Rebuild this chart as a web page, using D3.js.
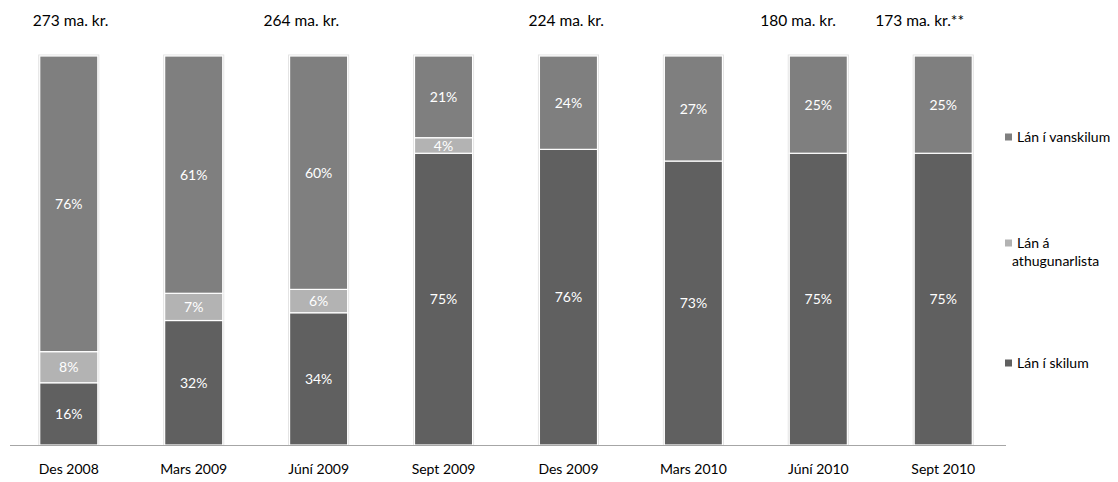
<!DOCTYPE html>
<html><head><meta charset="utf-8">
<script src="https://cdn.jsdelivr.net/npm/d3@7/dist/d3.min.js"></script>
<style>body{margin:0;background:#fff}svg{display:block}text{font-family:Lato,"Open Sans",sans-serif}</style>
</head><body><svg id="c" width="1118" height="482"></svg>
<script>
const categories = ["Des 2008","Mars 2009","Júní 2009","Sept 2009","Des 2009","Mars 2010","Júní 2010","Sept 2010"];
const skilum = [16,32,34,75,76,73,75,75];
const athugun = [8,7,6,4,0,0,0,0];
const vanskilum = [76,61,60,21,24,27,25,25];
const seriesNames = ["Lán í skilum","Lán á athugunarlista","Lán í vanskilum"];
const totalLabels = ["273 ma. kr.","","264 ma. kr.","","224 ma. kr.","","180 ma. kr.","173 ma. kr.**"];
const totalLabelDx = [-36,0,-55,0,-40,0,-58,-68];

const colors = ["#606060","#b3b3b3","#7f7f7f"];
const svg = d3.select("#c");
const x = d3.scaleBand().domain(categories).range([6,1006]).paddingInner(0.535).paddingOuter(0.27);
const y = d3.scaleLinear().domain([0,100]).range([445,56]);

const rows = categories.map((c,i)=>({cat:c, s0:skilum[i], s1:athugun[i], s2:vanskilum[i]}));
const stack = d3.stack().keys(["s0","s1","s2"])(rows);

// shadow/outline
svg.append("g").selectAll("rect").data(rows).join("rect")
  .attr("x",d=>x(d.cat)-1.5).attr("width",x.bandwidth()+3)
  .attr("y",y(100)-1.5).attr("height",y(0)-y(100)+1.5)
  .attr("fill","#e2e2e2");

stack.forEach((layer,k)=>{
  const g = svg.append("g");
  g.selectAll("rect").data(layer.filter(d=>d[1]>d[0])).join("rect")
    .attr("x",d=>x(d.data.cat)).attr("width",x.bandwidth())
    .attr("y",d=>y(d[1])).attr("height",d=>y(d[0])-y(d[1]))
    .attr("fill",colors[k]).attr("stroke","#fff").attr("stroke-width",1.2);
  g.selectAll("text").data(layer.filter(d=>d[1]>d[0])).join("text")
    .attr("x",d=>x(d.data.cat)+x.bandwidth()/2)
    .attr("y",d=>(y(d[0])+y(d[1]))/2)
    .attr("dy","0.36em").attr("text-anchor","middle")
    .attr("fill","#fff").attr("font-size",14)
    .text(d=>(d[1]-d[0])+"%");
});

// baseline
svg.append("line").attr("x1",10).attr("x2",1006).attr("y1",445.5).attr("y2",445.5)
  .attr("stroke","#a6a6a6").attr("stroke-width",1.2);

// x labels
const xa = svg.append("g").attr("transform","translate(0,445)")
  .call(d3.axisBottom(x).tickSize(0).tickPadding(19));
xa.select(".domain").remove();
xa.selectAll("text").attr("font-size",14).attr("fill","#000").style("font-family","Lato,sans-serif");

// totals
svg.append("g").selectAll("text").data(totalLabels.map((t,i)=>({t,i})).filter(d=>d.t))
  .join("text")
  .attr("text-anchor","start")
  .attr("x",d=>x(categories[d.i])+x.bandwidth()/2+totalLabelDx[d.i])
  .attr("y",26).attr("font-size",15.5).attr("fill","#000")
  .text(d=>d.t);

// legend
const legendY = [363, 243, 137];
const lg = svg.append("g");
seriesNames.forEach((n,k)=>{
  const lines = k===1 ? ["Lán á","athugunarlista"] : [n];
  const gy = legendY[k];
  lg.append("rect").attr("x",1005).attr("y",gy-3.5).attr("width",7).attr("height",7).attr("fill",colors[k]);
  const t = lg.append("text").attr("x",1017).attr("y",gy).attr("font-size",14).attr("fill","#000");
  lines.forEach((l,j)=>t.append("tspan").attr("x",j===0?1017:1012).attr("dy",j===0?"0.35em":"1.3em").text(l));
});
</script></body></html>
